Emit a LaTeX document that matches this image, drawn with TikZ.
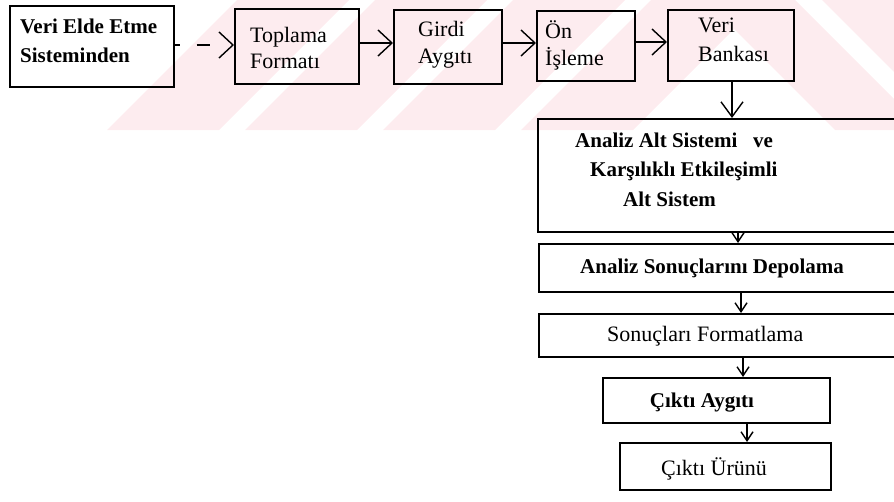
\documentclass[tikz,border=0pt]{standalone}
\usepackage{fontspec}
\setmainfont{Liberation Serif}
\usetikzlibrary{arrows.meta}
\definecolor{wmpink}{RGB}{253,236,239}
\begin{document}
\begin{tikzpicture}[x=1pt,y=-1pt,
  box/.style={draw=black, line width=1.5pt, inner sep=0pt, anchor=north west, rectangle},
  txt/.style={inner sep=0pt, anchor=base west, font=\fontsize{22pt}{26pt}\selectfont},
  txtb/.style={txt, font=\fontsize{21pt}{26pt}\selectfont\bfseries},
  arr/.style={line width=1.4pt, -{Straight Barb[length=14pt,width=26pt]}},
  arrbig/.style={line width=1.4pt, -{Straight Barb[length=15pt,width=22pt]}},
  arrsm/.style={line width=1.4pt, -{Straight Barb[length=9pt,width=12pt]}}]
\useasboundingbox (0,0) rectangle (894,501);
\clip (0,0) rectangle (894,501);
% watermark
\begin{scope}
\clip (0,0) rectangle (894,130);
\foreach \a in {107,245,383,521}
  \fill[wmpink] (\a,130) -- (\a+112,130) -- (\a+242,0) -- (\a+130,0) -- cycle;
\fill[wmpink] (705,0) -- (795,0) -- (925,130) -- (835,130) -- cycle;
\fill[wmpink] (822,0) -- (1000,0) -- (1000,130) -- (952,130) -- cycle;
\end{scope}
% boxes
\node[box, minimum width=164pt, minimum height=81pt] (src) at (9,5) {};
\node[box, minimum width=124pt, minimum height=75pt] (top) at (234,8) {};
\node[box, minimum width=108pt, minimum height=74pt] (gir) at (393,9) {};
\node[box, minimum width=98pt, minimum height=70pt] (onis) at (536,10) {};
\node[box, minimum width=126pt, minimum height=71pt] (vb) at (667,9) {};
\node[box, minimum width=380pt, minimum height=113pt] (an) at (537,118) {};
\node[box, minimum width=380pt, minimum height=48pt] (dep) at (538,243) {};
\node[box, minimum width=380pt, minimum height=43pt] (fmt) at (538,313) {};
\node[box, minimum width=227pt, minimum height=45pt] (cay) at (602,377) {};
\node[box, minimum width=211pt, minimum height=47pt] (cur) at (619,442) {};
% texts
\node[txtb] (t1a) at (20,33) {Veri Elde Etme};
\node[txtb] (t1b) at (20,62) {Sisteminden};
\node[txt] (t2a) at (250,42) {Toplama};
\node[txt] (t2b) at (250,68) {Formatı};
\node[txt] (t3a) at (418,36) {Girdi};
\node[txt] (t3b) at (418,63) {Aygıtı};
\node[txt] (t4a) at (545,38) {Ön};
\node[txt] (t4b) at (545,65) {İşleme};
\node[txt] (t5a) at (698,32) {Veri};
\node[txt] (t5b) at (698,61) {Bankası};
\node[txtb] (t6a) at (575,147) {Analiz Alt Sistemi};
\node[txtb] (t6v) at (753,147) {ve};
\node[txtb] (t6b) at (590,176) {Karşılıklı Etkileşimli};
\node[txtb] (t6c) at (623,206) {Alt Sistem};
\node[txtb] (t7) at (580,273) {Analiz Sonuçlarını Depolama};
\node[txt] (t8) at (607,341) {Sonuçları Formatlama};
\node[txtb, anchor=base] (t9) at (702,407) {Çıktı Aygıtı};
\node[txt, anchor=base] (t10) at (714,475) {Çıktı Ürünü};
% connectors
\draw[arr, dash pattern=on 5pt off 17pt on 13pt off 60pt] (src.east |- 0,45) -- (top.west |- 0,45);
\draw[arr] (top.east |- 0,43) -- (gir.west |- 0,43);
\draw[arr] (gir.east |- 0,43) -- (onis.west |- 0,43);
\draw[arr] (onis.east |- 0,42) -- (vb.west |- 0,42);
\draw[arrbig] (vb.south -| 732,0) -- (an.north -| 732,0);
\draw[arrsm] (an.south -| 738,0) -- (dep.north -| 738,0);
\draw[arrsm] (dep.south -| 741,0) -- (fmt.north -| 741,0);
\draw[arrsm] (fmt.south -| 743,0) -- (cay.north -| 743,0);
\draw[arrsm] (cay.south -| 747,0) -- (cur.north -| 747,0);
\end{tikzpicture}
\end{document}
